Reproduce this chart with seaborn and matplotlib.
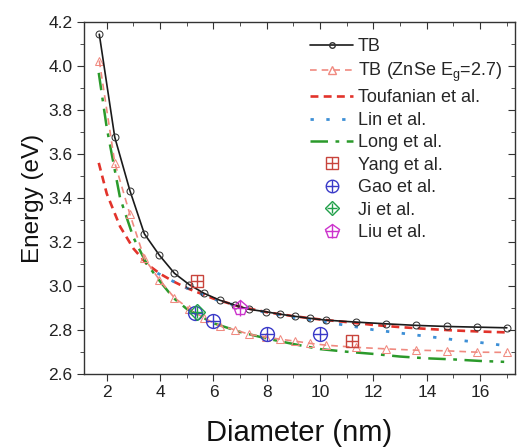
import matplotlib
matplotlib.use("Agg")
import matplotlib.pyplot as plt
import seaborn as sns
from matplotlib.ticker import MultipleLocator
from matplotlib.lines import Line2D

# TB calculation and TB with ZnSe gap
tb_d = [1.72, 2.30, 2.87, 3.41, 3.97, 4.54, 5.10, 5.65, 6.23, 6.80, 7.35, 7.97,
        8.50, 9.07, 9.63, 10.22, 11.34, 12.48, 13.60, 14.76, 15.87, 17.0]
tb_e = [4.146, 3.677, 3.433, 3.237, 3.140, 3.057, 3.005, 2.966, 2.935, 2.912, 2.893, 2.882,
        2.871, 2.861, 2.852, 2.844, 2.835, 2.827, 2.820, 2.815, 2.812, 2.809]
znse_e = [4.026, 3.561, 3.325, 3.125, 3.028, 2.945, 2.895, 2.853, 2.818, 2.800, 2.779, 2.767,
          2.757, 2.748, 2.738, 2.730, 2.720, 2.713, 2.707, 2.704, 2.698, 2.697]

# empirical curves
touf_d = [1.7, 2.0, 2.5, 3.0, 3.5, 4.0, 4.5, 5.0, 6.0, 7.0, 8.0, 9.0, 10.0, 11.0, 12.0, 13.0, 14.0, 15.0, 16.0, 17.0]
touf_e = [3.56, 3.42, 3.27, 3.17, 3.10, 3.055, 3.02, 2.99, 2.942, 2.905, 2.88, 2.862, 2.847, 2.835, 2.822, 2.812, 2.804, 2.797, 2.792, 2.788]

lin_d = [3.9, 4.5, 5.0, 6.0, 7.0, 8.0, 9.0, 10.0, 11.0, 12.0, 13.0, 14.0, 15.0, 16.0, 16.8]
lin_e = [3.058, 3.02, 2.99, 2.94, 2.905, 2.878, 2.857, 2.838, 2.82, 2.80, 2.785, 2.77, 2.755, 2.742, 2.73]

long_d = [1.7, 2.0, 2.5, 3.0, 3.5, 4.0, 4.5, 5.0, 6.0, 7.0, 8.0, 9.0, 10.0, 11.0, 12.0, 13.0, 14.0, 15.0, 16.0, 16.9]
long_e = [3.97, 3.72, 3.40, 3.22, 3.10, 3.02, 2.945, 2.895, 2.83, 2.79, 2.76, 2.735, 2.712, 2.70, 2.69, 2.678, 2.67, 2.665, 2.658, 2.654]

# experimental points
yang_d = [5.4, 11.2]
yang_e = [3.02, 2.748]
gao_d = [5.3, 6.0, 8.0, 10.0]
gao_e = [2.875, 2.84, 2.78, 2.78]
ji_d = [5.4]
ji_e = [2.882]
liu_d = [7.0]
liu_e = [2.90]

sns.set_style("ticks")
plt.rcParams["font.family"] = ["Liberation Sans", "DejaVu Sans"]

fig = plt.figure(figsize=(5.19, 4.47), dpi=100)
ax = fig.add_axes([0.162, 0.164, 0.830, 0.786])

sns.lineplot(x=touf_d, y=touf_e, ax=ax, color="#e2332b", linestyle=(0, (3, 2)), linewidth=1.9, sort=False)
sns.lineplot(x=lin_d, y=lin_e, ax=ax, color="#3d8fd6", linestyle=(0, (1.2, 4.5)), linewidth=2.0, sort=False)
sns.lineplot(x=long_d, y=long_e, ax=ax, color="#2b9a2b", linestyle=(0, (7, 3, 1.5, 3)), linewidth=1.8, sort=False)
sns.lineplot(x=tb_d, y=znse_e, ax=ax, color="#f08a80", linestyle=(0, (4, 3)), linewidth=1.2,
             marker="^", markersize=6, markerfacecolor="none", markeredgecolor="#f08a80", sort=False)
sns.lineplot(x=tb_d, y=tb_e, ax=ax, color="#1a1a1a", linewidth=1.2,
             marker="o", markersize=5, markerfacecolor="none", markeredgecolor="#333333", sort=False)

pts = [
    (yang_d, yang_e, "s", "#c8443c", 9),
    (gao_d, gao_e, "o", "#3a3ac8", 10),
    (ji_d, ji_e, "D", "#22a04a", 8),
    (liu_d, liu_e, "p", "#cc33cc", 11),
]
for d, e, m, c, s in pts:
    ax.plot(d, e, linestyle="none", marker=m, markersize=s, markerfacecolor="none", markeredgecolor=c, markeredgewidth=1.0)
    ax.plot(d, e, linestyle="none", marker="+", markersize=s, markeredgecolor=c, markeredgewidth=1.0)

ax.set_xlim(1.15, 17.3)
ax.set_ylim(2.6, 4.2)
ax.xaxis.set_major_locator(MultipleLocator(2))
ax.xaxis.set_minor_locator(MultipleLocator(1))
ax.yaxis.set_major_locator(MultipleLocator(0.2))
ax.yaxis.set_minor_locator(MultipleLocator(0.1))
ax.yaxis.set_major_formatter(matplotlib.ticker.FormatStrFormatter("%.1f"))
for side in ["top", "right", "left", "bottom"]:
    ax.spines[side].set_visible(True)
    ax.spines[side].set_color("#333333")
    ax.spines[side].set_linewidth(1.0)
ax.tick_params(which="both", direction="out", top=False, right=False, labelsize=12.5, colors="#333333",
               labelcolor="#222222")
ax.tick_params(which="major", length=5)
ax.tick_params(which="minor", length=3)
sec_x = ax.secondary_xaxis("top")
sec_x.xaxis.set_major_locator(MultipleLocator(2))
sec_x.xaxis.set_minor_locator(MultipleLocator(1))
sec_x.tick_params(which="both", direction="in", labeltop=False, colors="#333333")
sec_x.tick_params(which="major", length=5)
sec_x.tick_params(which="minor", length=3)
sec_y = ax.secondary_yaxis("right")
sec_y.yaxis.set_major_locator(MultipleLocator(0.2))
sec_y.yaxis.set_minor_locator(MultipleLocator(0.1))
sec_y.tick_params(which="both", direction="in", labelright=False, colors="#333333")
sec_y.tick_params(which="major", length=5)
sec_y.tick_params(which="minor", length=3)
sec_x.spines["top"].set_visible(False)
sec_y.spines["right"].set_visible(False)

ax.set_xlabel("Diameter (nm)", fontsize=21, labelpad=13, color="#111111")
ax.set_ylabel("Energy (eV)", fontsize=17.5, labelpad=3, color="#111111")

def pt_handle(m, c, s):
    a = Line2D([], [], linestyle="none", marker=m, markersize=s - 1, markerfacecolor="none", markeredgecolor=c)
    b = Line2D([], [], linestyle="none", marker="+", markersize=s - 1, markeredgecolor=c)
    return (a, b)

handles = [
    Line2D([], [], color="#1a1a1a", linewidth=1.2, marker="o", markersize=4, markerfacecolor="none", markeredgecolor="#333333"),
    Line2D([], [], color="#f08a80", linestyle=(0, (4, 3)), linewidth=1.2, marker="^", markersize=6, markerfacecolor="none"),
    Line2D([], [], color="#e2332b", linestyle=(0, (3, 2)), linewidth=1.9),
    Line2D([], [], color="#3d8fd6", linestyle=(0, (1.2, 4.5)), linewidth=2.0),
    Line2D([], [], color="#2b9a2b", linestyle=(0, (7, 3, 1.5, 3)), linewidth=1.8),
    pt_handle("s", "#c8443c", 9),
    pt_handle("o", "#3a3ac8", 10),
    pt_handle("D", "#22a04a", 8),
    pt_handle("p", "#cc33cc", 11),
]
labels = ["TB", "TB (ZnSe E$_\\mathregular{g}$=2.7)", "Toufanian et al.", "Lin et al.", "Long et al.",
          "Yang et al.", "Gao et al.", "Ji et al.", "Liu et al."]
ax.legend(handles, labels, loc="upper right", bbox_to_anchor=(0.995, 0.985), frameon=False, fontsize=13,
          handlelength=2.4, handletextpad=0.25, labelspacing=0.3, borderaxespad=0.2)

fig.savefig("out.png", dpi=100)
